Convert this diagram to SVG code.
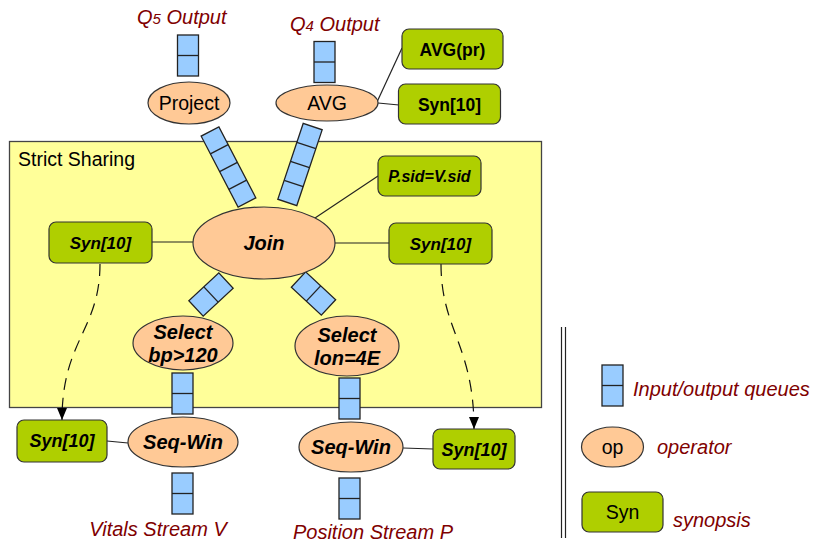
<svg xmlns="http://www.w3.org/2000/svg" width="818" height="546" viewBox="0 0 818 546">
<style>
text{font-family:"Liberation Sans",Arial,sans-serif;fill:#000}
.op{fill:#ffc996;stroke:#333;stroke-width:1.2}
.syn{fill:#afcf00;stroke:#333;stroke-width:1.2}
.q{fill:#99ccff;stroke:#222;stroke-width:1.3}
.lbl{font-style:italic;fill:#800000;font-size:20px}
.bi{font-weight:bold;font-style:italic}
.b{font-weight:bold}
.ln{stroke:#222;stroke-width:1.2;fill:none}
.dash{stroke:#111;stroke-width:1.2;fill:none;stroke-dasharray:12,8}
</style>
<defs>
<g id="q2"><rect x="-10.5" y="-20.5" width="21" height="41"/><line x1="-10.5" y1="0" x2="10.5" y2="0"/></g>
<g id="q4"><rect x="-10" y="-40" width="20" height="80"/><line x1="-10" y1="-20" x2="10" y2="-20"/><line x1="-10" y1="0" x2="10" y2="0"/><line x1="-10" y1="20" x2="10" y2="20"/></g>
<marker id="ah" markerUnits="userSpaceOnUse" markerWidth="13" markerHeight="10" refX="12" refY="5" orient="auto"><path d="M0,0 L12,5 L0,10 z" fill="#000"/></marker>
</defs>

<rect id="strict" x="9.5" y="141.5" width="532" height="266" fill="#ffff99" stroke="#444" stroke-width="1.3"/>
<text x="18" y="166" font-size="19.5">Strict Sharing</text>

<g id="connectors">
<line class="ln" x1="377" y1="102" x2="402" y2="48"/>
<line class="ln" x1="378" y1="103" x2="399" y2="105"/>
<line class="ln" x1="315" y1="218" x2="378" y2="176"/>
<line class="ln" x1="152" y1="242" x2="193" y2="242"/>
<line class="ln" x1="335" y1="243" x2="389" y2="243"/>
<line class="ln" x1="107" y1="441" x2="128" y2="443"/>
<line class="ln" x1="403" y1="448" x2="433" y2="449"/>
<path class="dash" d="M100,264 C100,330 62,340 62,420" marker-end="url(#ah)"/>
<path class="dash" d="M441,264 C441,330 474,345 474,429" marker-end="url(#ah)"/>
</g>

<g id="queues" class="q">
<use href="#q2" transform="translate(188,55.5)"/>
<use href="#q2" transform="translate(324.5,62)"/>
<use href="#q4" transform="translate(228.5,167) rotate(-27.5)"/>
<use href="#q4" transform="translate(300,164.5) rotate(18.5)"/>
<use href="#q2" transform="translate(211,294.5) rotate(47)"/>
<use href="#q2" transform="translate(313.5,293.5) rotate(-47)"/>
<use href="#q2" transform="translate(182.5,393.5)"/>
<use href="#q2" transform="translate(182.5,493.5)"/>
<use href="#q2" transform="translate(349.5,398.5)"/>
<use href="#q2" transform="translate(349.5,498.5)"/>
</g>

<g id="q5label"><text class="lbl" x="137" y="24">Q<tspan font-size="15">5</tspan> Output</text></g>
<g id="q4label"><text class="lbl" x="290" y="31">Q<tspan font-size="15">4</tspan> Output</text></g>

<g id="project"><ellipse class="op" cx="189" cy="103" rx="41" ry="21"/><text x="189" y="110" font-size="19.5" text-anchor="middle">Project</text></g>
<g id="avg"><ellipse class="op" cx="327" cy="103" rx="51" ry="18"/><text x="327" y="110" font-size="19.5" text-anchor="middle">AVG</text></g>
<g id="avgpr"><rect class="syn" x="402" y="29" width="101" height="40" rx="7"/><text class="b" x="452.5" y="56" font-size="17.5" text-anchor="middle">AVG(pr)</text></g>
<g id="syn-avg"><rect class="syn" x="398.5" y="84" width="102" height="40" rx="7"/><text class="b" x="449.5" y="111" font-size="17.5" text-anchor="middle">Syn[10]</text></g>

<g id="join"><ellipse class="op" cx="264" cy="243" rx="71" ry="36"/><text class="bi" x="264" y="250" font-size="20" text-anchor="middle">Join</text></g>
<g id="pred"><rect class="syn" x="378" y="156" width="103" height="40" rx="7"/><text class="bi" x="429.5" y="182" font-size="16" text-anchor="middle">P.sid=V.sid</text></g>
<g id="syn-l"><rect class="syn" x="49" y="222" width="103" height="41" rx="7"/><text class="bi" x="100.5" y="249" font-size="17" text-anchor="middle">Syn[10]</text></g>
<g id="syn-r"><rect class="syn" x="389" y="223" width="103" height="41" rx="7"/><text class="bi" x="440.5" y="250" font-size="17" text-anchor="middle">Syn[10]</text></g>

<g id="sel-bp"><ellipse class="op" cx="183" cy="343" rx="50" ry="27"/><text class="bi" x="183" y="339" font-size="20" text-anchor="middle">Select</text><text class="bi" x="183" y="362" font-size="20" text-anchor="middle">bp&gt;120</text></g>
<g id="sel-lon"><ellipse class="op" cx="347" cy="346" rx="52" ry="30"/><text class="bi" x="347" y="342" font-size="20" text-anchor="middle">Select</text><text class="bi" x="347" y="365" font-size="20" text-anchor="middle">lon=4E</text></g>

<g id="seq-l"><ellipse class="op" cx="183" cy="442" rx="55" ry="25"/><text class="bi" x="183" y="449" font-size="20" text-anchor="middle">Seq-Win</text></g>
<g id="seq-r"><ellipse class="op" cx="351" cy="447" rx="52" ry="25"/><text class="bi" x="351" y="454" font-size="20" text-anchor="middle">Seq-Win</text></g>
<g id="syn-bl"><rect class="syn" x="17" y="420" width="90" height="42" rx="7"/><text class="bi" x="62" y="447" font-size="18" text-anchor="middle">Syn[10]</text></g>
<g id="syn-br"><rect class="syn" x="433" y="429" width="82" height="40" rx="7"/><text class="bi" x="474" y="456" font-size="18" text-anchor="middle">Syn[10]</text></g>

<g id="vitals"><text class="lbl" x="158" y="536" text-anchor="middle">Vitals Stream V</text></g>
<g id="position"><text class="lbl" x="373" y="539" text-anchor="middle">Position Stream P</text></g>

<g id="legend">
<line x1="561.5" y1="327" x2="561.5" y2="538" stroke="#222" stroke-width="1.2"/>
<line x1="565.5" y1="327" x2="565.5" y2="538" stroke="#222" stroke-width="1.2"/>
<use class="q" href="#q2" transform="translate(612.5,385.5)"/>
<text class="lbl" x="633" y="396">Input/output queues</text>
<ellipse class="op" cx="612.5" cy="447" rx="31" ry="20"/>
<text x="612.5" y="454" font-size="19.5" text-anchor="middle">op</text>
<text class="lbl" x="657" y="454">operator</text>
<rect class="syn" x="582" y="492" width="81" height="40" rx="7"/>
<text x="622.5" y="519" font-size="19.5" text-anchor="middle">Syn</text>
<text class="lbl" x="673" y="527">synopsis</text>
</g>
</svg>
